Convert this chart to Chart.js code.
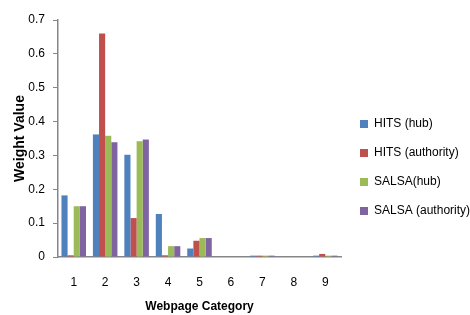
<!DOCTYPE html>
<html>
<head>
<meta charset="utf-8">
<script src="https://cdn.jsdelivr.net/npm/chart.js@4"></script>
<style>
  html, body { margin: 0; padding: 0; background: #fff; }
  #wrap { width: 470px; height: 315px; }
</style>
</head>
<body>
<div id="wrap"><canvas id="weights"></canvas></div>
<script>
const categories = ['1', '2', '3', '4', '5', '6', '7', '8', '9'];
const hitsHub = [0.182, 0.362, 0.302, 0.127, 0.025, 0, 0.004, 0, 0.004];
const hitsAuthority = [0.005, 0.66, 0.115, 0.005, 0.048, 0, 0.004, 0, 0.009];
const salsaHub = [0.15, 0.358, 0.342, 0.032, 0.056, 0, 0.004, 0, 0.004];
const salsaAuthority = [0.15, 0.339, 0.347, 0.032, 0.056, 0, 0.004, 0, 0.004];
const seriesNames = ['HITS (hub)', 'HITS (authority)', 'SALSA(hub)', 'SALSA (authority)'];

const font = 'Liberation Sans';
const axisGray = '#868686';

// move the legend off the plot a bit, like the original
const legendPlace = {
  id: 'legendPlace',
  beforeInit(chart) {
    const fit = chart.legend.fit;
    chart.legend.fit = function () {
      fit.call(this);
      this.width = 129;
    };
  },
  afterLayout(chart) {
    const lg = chart.legend;
    lg.left = 343;
    lg.right = 470;
  }
};

const data = {
  labels: categories,
  datasets: [
    { label: seriesNames[0], data: hitsHub, backgroundColor: '#4F81BD' },
    { label: seriesNames[1], data: hitsAuthority, backgroundColor: '#C0504D' },
    { label: seriesNames[2], data: salsaHub, backgroundColor: '#9BBB59' },
    { label: seriesNames[3], data: salsaAuthority, backgroundColor: '#8064A2' }
  ]
};

const config = {
  type: 'bar',
  data: data,
  options: {
    responsive: true,
    maintainAspectRatio: false,
    animation: false,
    categoryPercentage: 0.78,
    barPercentage: 1,
    layout: { padding: { top: 20, right: 0, bottom: 0, left: 0 } },
    plugins: {
      tooltip: { enabled: false },
      legend: {
        position: 'right',
        align: 'center',
        labels: {
          boxWidth: 8,
          boxHeight: 8,
          padding: 17,
          color: '#000',
          font: { family: font, size: 12 }
        }
      }
    },
    scales: {
      x: {
        grid: { display: false, drawTicks: false },
        border: { color: axisGray, width: 1.5 },
        ticks: { color: '#000', padding: 18, font: { family: font, size: 12 } },
        title: {
          display: true,
          text: 'Webpage Category',
          color: '#000',
          padding: { top: 0, bottom: 1 },
          font: { family: font, size: 12, weight: 'bold' }
        },
        afterFit: s => { s.height = 58; }
      },
      y: {
        min: 0,
        max: 0.7,
        grid: { drawOnChartArea: false, drawTicks: true, tickLength: 5, color: axisGray },
        border: { color: axisGray, width: 1.5 },
        ticks: { stepSize: 0.1, color: '#000', padding: 8, font: { family: font, size: 12 } },
        title: {
          display: true,
          text: 'Weight Value',
          color: '#000',
          padding: { top: 12, bottom: 0 },
          font: { family: font, size: 14, weight: 'bold' }
        },
        afterFit: s => { s.width = 58; }
      }
    }
  },
  plugins: [legendPlace]
};

const weightsChart = new Chart(document.getElementById('weights').getContext('2d'), config);
</script>
</body>
</html>
